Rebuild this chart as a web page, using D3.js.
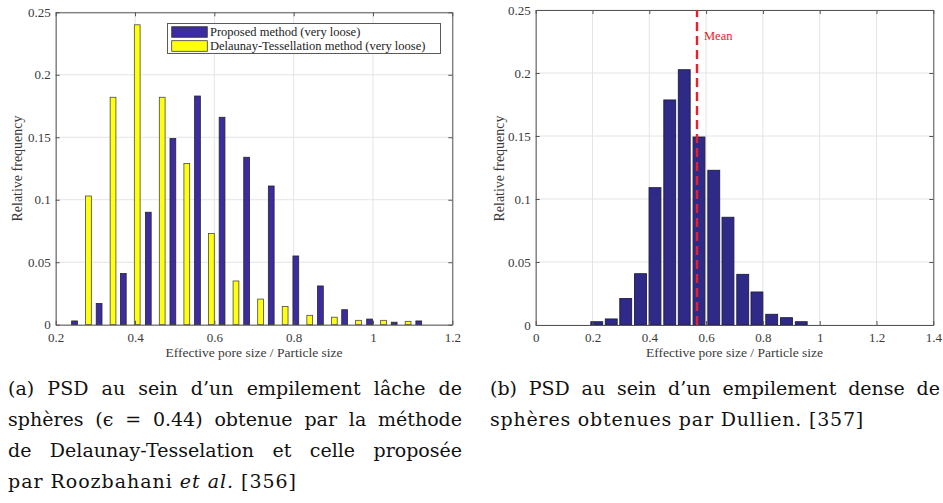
<!DOCTYPE html>
<html>
<head>
<meta charset="utf-8">
<script src="https://cdn.jsdelivr.net/npm/d3@7/dist/d3.min.js"></script>
<style>
  html, body { margin: 0; padding: 0; background: #ffffff; }
  svg { display: block; }
  svg text { font-family: "Liberation Serif", "DejaVu Serif", serif; }
  svg text.cap { font-family: "DejaVu Serif", "Liberation Serif", serif; }
</style>
</head>
<body>
<svg id="chart" width="943" height="503"></svg>
<script>
// ---------------- DATA ----------------
// Panel (a): grouped histogram
const xTicksA = [0.2, 0.4, 0.6, 0.8, 1, 1.2];
const yTicksA = [0, 0.05, 0.1, 0.15, 0.2, 0.25];
const binsA = [0.265, 0.327, 0.388, 0.451, 0.513, 0.575, 0.637, 0.699, 0.761, 0.823, 0.885, 0.946, 1.009, 1.071, 1.133];
const proposedA = [0.003, 0.017, 0.041, 0.090, 0.149, 0.183, 0.166, 0.134, 0.111, 0.055, 0.031, 0.012, 0.0045, 0.002, 0.003];
const delaunayA = [0.103, 0.182, 0.240, 0.182, 0.129, 0.073, 0.035, 0.0205, 0.0145, 0.0075, 0.006, 0.0035, 0.0035, 0.0027, 0];
const seriesNamesA = ["Proposed method (very loose)", "Delaunay-Tessellation method (very loose)"];

// Panel (b): histogram with mean line
const xTicksB = [0, 0.2, 0.4, 0.6, 0.8, 1, 1.2, 1.4];
const yTicksB = [0, 0.05, 0.1, 0.15, 0.2, 0.25];
const binsB = [0.215, 0.266, 0.317, 0.369, 0.420, 0.472, 0.523, 0.575, 0.627, 0.677, 0.729, 0.779, 0.831, 0.883, 0.935];
const freqB = [0.0026, 0.0048, 0.021, 0.0407, 0.109, 0.1786, 0.2026, 0.1492, 0.1228, 0.0855, 0.0402, 0.0262, 0.0085, 0.0058, 0.0026];
const meanB = 0.568;
const meanLabel = "Mean";

const xLabel = "Effective pore size / Particle size";
const yLabel = "Relative frequency";

// ---------------- DRAWING ----------------
const svg = d3.select("#chart");
const TXT = "#3a3a3a";

function frame(g, x, y, xTicks, yTicks) {
  const [X0, X1] = x.range();
  const [Y1, Y0] = y.range();
  g.append("g").selectAll("line").data(xTicks).join("line")
    .attr("x1", d => x(d)).attr("x2", d => x(d)).attr("y1", Y0).attr("y2", Y1)
    .attr("stroke", "#e4e4e4").attr("stroke-width", 1);
  g.append("g").selectAll("line").data(yTicks).join("line")
    .attr("x1", X0).attr("x2", X1).attr("y1", d => y(d)).attr("y2", d => y(d))
    .attr("stroke", "#e4e4e4").attr("stroke-width", 1);
}

function axes(g, x, y, xTicks, yTicks) {
  const [X0, X1] = x.range();
  const [Y1, Y0] = y.range();
  const fmt = d => String(d);
  const tl = 4;
  const bottom = d3.axisBottom(x).tickValues(xTicks).tickFormat(fmt).tickSizeInner(-tl).tickSizeOuter(0).tickPadding(8);
  const top = d3.axisTop(x).tickValues(xTicks).tickFormat("").tickSizeInner(-tl).tickSizeOuter(0);
  const left = d3.axisLeft(y).tickValues(yTicks).tickFormat(fmt).tickSizeInner(-tl).tickSizeOuter(0).tickPadding(5);
  const right = d3.axisRight(y).tickValues(yTicks).tickFormat("").tickSizeInner(-tl).tickSizeOuter(0);
  const style = sel => {
    sel.attr("font-family", null);
    sel.selectAll("path").attr("stroke", "#555").attr("stroke-width", 1);
    sel.selectAll("line").attr("stroke", "#555").attr("stroke-width", 1);
    sel.selectAll("text").attr("fill", TXT).attr("font-size", 13);
  };
  g.append("g").attr("transform", `translate(0,${Y1})`).call(bottom).call(style);
  g.append("g").attr("transform", `translate(0,${Y0})`).call(top).call(style);
  g.append("g").attr("transform", `translate(${X0},0)`).call(left).call(style);
  g.append("g").attr("transform", `translate(${X1},0)`).call(right).call(style);
  g.append("text").attr("x", (X0 + X1) / 2).attr("y", Y1 + 32)
    .attr("text-anchor", "middle").attr("font-size", 13.5).attr("fill", TXT)
    .text(xLabel);
}

function yLab(g, cx, cy) {
  g.append("text").attr("transform", `translate(${cx},${cy}) rotate(-90)`)
    .attr("text-anchor", "middle").attr("font-size", 14).attr("fill", TXT)
    .attr("dy", "0.35em")
    .text(yLabel);
}

// ---- Panel (a)
{
  const g = svg.append("g");
  const x = d3.scaleLinear().domain([0.2, 1.2]).range([55.7, 452.3]);
  const y = d3.scaleLinear().domain([0, 0.25]).range([324.7, 12.3]);
  frame(g, x, y, xTicksA, yTicksA);
  const step = x(binsA[1]) - x(binsA[0]);
  const bw = step * 0.235, off = step * 0.283;
  g.append("g").selectAll("rect").data(binsA).join("rect")
    .attr("x", (d) => x(d) - off - bw / 2).attr("width", bw)
    .attr("y", (d, i) => y(proposedA[i])).attr("height", (d, i) => y(0) - y(proposedA[i]))
    .attr("fill", "#3b2ca2").attr("stroke", "#262626").attr("stroke-width", 0.8);
  g.append("g").selectAll("rect").data(binsA).join("rect")
    .filter((d, i) => delaunayA[i] > 0)
    .attr("x", (d) => x(d) + off - bw / 2).attr("width", bw)
    .attr("y", (d, i) => y(delaunayA[i])).attr("height", (d, i) => y(0) - y(delaunayA[i]))
    .attr("fill", "#ffff10").attr("stroke", "#4a4a3a").attr("stroke-width", 0.8);
  axes(g, x, y, xTicksA, yTicksA);
  yLab(g, 17.5, 168.5);

  const lg = g.append("g");
  lg.append("rect").attr("x", 167.5).attr("y", 23.5).attr("width", 273).attr("height", 30)
    .attr("fill", "#fff").attr("stroke", "#5a5a5a").attr("stroke-width", 1);
  const cols = ["#3b2ca2", "#ffff10"];
  seriesNamesA.forEach((name, i) => {
    lg.append("rect").attr("x", 171.7).attr("y", 26.7 + i * 14).attr("width", 35.6).attr("height", 10.6)
      .attr("fill", cols[i]).attr("stroke", "#3a3a3a").attr("stroke-width", 0.8);
    lg.append("text").attr("x", 210).attr("y", 36 + i * 14)
      .attr("font-size", 12.5).attr("fill", "#222")
      .text(name);
  });
}

// ---- Panel (b)
{
  const g = svg.append("g");
  const x = d3.scaleLinear().domain([0, 1.4]).range([535.7, 933.3]);
  const y = d3.scaleLinear().domain([0, 0.25]).range([325, 10]);
  frame(g, x, y, xTicksB, yTicksB);
  const step = x(binsB[1]) - x(binsB[0]);
  const bw = step * 0.82;
  g.append("g").selectAll("rect").data(binsB).join("rect")
    .attr("x", d => x(d) - bw / 2).attr("width", bw)
    .attr("y", (d, i) => y(freqB[i])).attr("height", (d, i) => y(0) - y(freqB[i]))
    .attr("fill", "#2f2a88").attr("stroke", "#1e1e3a").attr("stroke-width", 0.9);
  axes(g, x, y, xTicksB, yTicksB);
  g.append("line").attr("x1", x(meanB)).attr("x2", x(meanB)).attr("y1", y(0)).attr("y2", y(0.25))
    .attr("stroke", "#e8202a").attr("stroke-width", 2.4).attr("stroke-dasharray", "9,5");
  g.append("text").attr("x", x(meanB) + 7).attr("y", 40)
    .attr("font-size", 12.5).attr("fill", "#e8202a").text(meanLabel);
  yLab(g, 499, 168.5);
}

// ---------------- CAPTIONS ----------------
function capLine(xp, yp, parts, len, justify) {
  const t = svg.append("text").attr("class", "cap").attr("x", xp).attr("y", yp)
    .attr("font-size", 19).attr("fill", "#111");
  parts.forEach(p => {
    const s = t.append("tspan").text(p.t);
    if (p.i) s.attr("font-style", "italic");
  });
  const natural = t.node().getComputedTextLength();
  const spaces = parts.map(p => p.t).join("").split(" ").length - 1;
  if (justify) {
    t.style("word-spacing", ((len - natural) / spaces) + "px");
  } else {
    // last line: spread the small shortfall evenly (font is narrower than the original)
    const chars = parts.map(p => p.t).join("").length;
    t.style("letter-spacing", Math.max(0, (len - natural) / chars) + "px");
  }
  const after = t.node().getComputedTextLength();
  if (Math.abs(after - len) > 3) t.attr("textLength", len).attr("lengthAdjust", "spacing");
}
capLine(8, 395, [{t: "(a) PSD au sein d\u2019un empilement l\u00e2che de"}], 454, true);
capLine(8, 426, [{t: "sph\u00e8res (\u03f5 = 0.44) obtenue par la m\u00e9thode"}], 454, true);
capLine(8, 457, [{t: "de Delaunay-Tesselation et celle propos\u00e9e"}], 454, true);
capLine(8, 488, [{t: "par Roozbahani "}, {t: "et al.", i: true}, {t: " [356]"}], 289, false);
capLine(490, 395, [{t: "(b) PSD au sein d\u2019un empilement dense de"}], 450, true);
capLine(490, 426, [{t: "sph\u00e8res obtenues par Dullien. [357]"}], 374, false);
</script>
</body>
</html>
